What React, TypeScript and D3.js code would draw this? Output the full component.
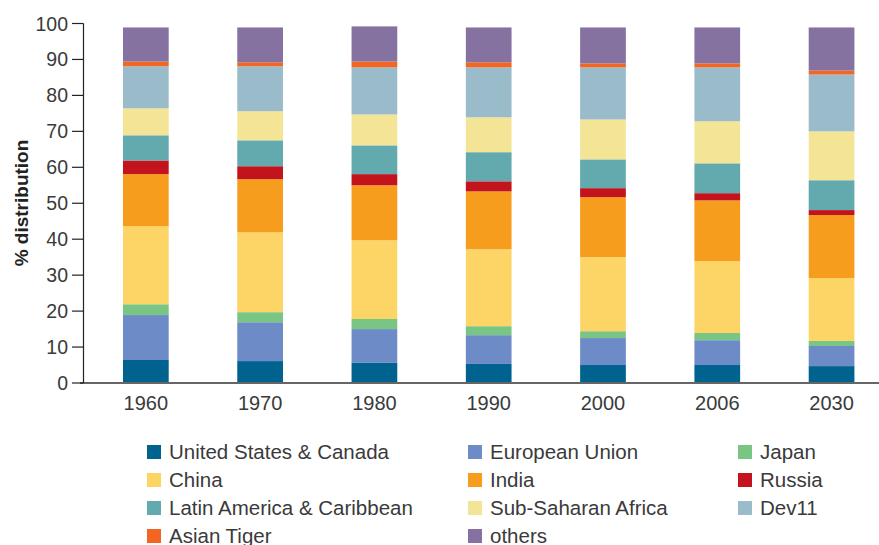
import React from "react";
import * as d3 from "d3";

const years = ["1960", "1970", "1980", "1990", "2000", "2006", "2030"];
const seriesNames = [
  "United States & Canada",
  "European Union",
  "Japan",
  "China",
  "India",
  "Russia",
  "Latin America & Caribbean",
  "Sub-Saharan Africa",
  "Dev11",
  "Asian Tiger",
  "others",
];
const seriesColors = [
  "#00628f", "#6d8bc6", "#78c584", "#fdd567", "#f79d1e", "#c3131d",
  "#63aaae", "#f4e596", "#9abcca", "#f26522", "#8572a0",
];
const usCanada = [6.4, 6.1, 5.6, 5.3, 5.0, 5.0, 4.7];
const europeanUnion = [12.5, 10.8, 9.4, 8.0, 7.5, 6.9, 5.6];
const japan = [3.0, 2.8, 2.8, 2.5, 1.9, 2.0, 1.4];
const china = [21.7, 22.2, 21.9, 21.4, 20.6, 20.0, 17.5];
const india = [14.5, 14.8, 15.3, 16.1, 16.7, 16.9, 17.5];
const russia = [3.8, 3.6, 3.1, 2.8, 2.5, 2.0, 1.4];
const latinAmerica = [7.0, 7.2, 8.0, 8.1, 8.0, 8.3, 8.3];
const subSaharan = [7.5, 8.1, 8.6, 9.7, 11.1, 11.7, 13.6];
const dev11 = [11.7, 12.5, 13.1, 13.9, 14.5, 15.0, 15.8];
const asianTiger = [1.3, 1.1, 1.6, 1.4, 1.1, 1.1, 1.1];
const others = [9.5, 9.7, 9.8, 9.7, 10.0, 10.0, 12.0];
const yTicks = [0, 10, 20, 30, 40, 50, 60, 70, 80, 90, 100];

const seriesValues = [
  usCanada, europeanUnion, japan, china, india, russia,
  latinAmerica, subSaharan, dev11, asianTiger, others,
];

export default function App() {
  const W = 879, H = 545;
  const font = "'Liberation Sans', Arial, sans-serif";
  const x = d3.scaleBand<string>().domain(years).range([88.7, 888.7]).paddingInner(0.6).paddingOuter(0.3);
  const y = d3.scaleLinear().domain([0, 100]).range([383, 23.5]);

  const rows = years.map((yr, i) => {
    const r: any = { year: yr };
    seriesNames.forEach((s, k) => (r[s] = seriesValues[k][i]));
    return r;
  });
  const stacked = d3.stack<any>().keys(seriesNames)(rows);

  const legendCols = [147, 468, 738];
  const legendRows = [452, 480, 508, 536];

  return (
    <svg width={W} height={H} style={{ position: "absolute", left: 0, top: 0 }}>
      <rect width={W} height={H} fill="#fff" />
      {stacked.map((layer, k) => (
        <g key={layer.key} fill={seriesColors[k]}>
          {layer.map((d, i) => (
            <rect
              key={i}
              x={x(years[i])}
              width={x.bandwidth()}
              y={y(d[1])}
              height={y(d[0]) - y(d[1])}
            />
          ))}
        </g>
      ))}
      {/* x baseline */}
      <line x1={80} x2={879} y1={y(0)} y2={y(0)} stroke="#666" strokeWidth={2} />
      {/* y axis */}
      <line x1={83.5} x2={83.5} y1={y(100)} y2={y(0)} stroke="#222" strokeWidth={1.2} />
      {yTicks.map((t) => (
        <g key={t}>
          <line x1={72} x2={83.5} y1={y(t)} y2={y(t)} stroke="#222" strokeWidth={1.2} />
          <text x={68} y={y(t)} dy="0.36em" textAnchor="end" fontFamily={font} fontSize={19.5} fill="#3a3a3a">
            {t}
          </text>
        </g>
      ))}
      {years.map((yr) => (
        <text
          key={yr}
          x={(x(yr) as number) + x.bandwidth() / 2}
          y={403}
          dy="0.36em"
          textAnchor="middle"
          fontFamily={font}
          fontSize={20}
          fill="#3a3a3a"
        >
          {yr}
        </text>
      ))}
      <text
        transform={`translate(21, 203) rotate(-90)`}
        textAnchor="middle"
        dy="0.35em"
        fontFamily={font}
        fontSize={19}
        fontWeight="bold"
        fill="#222"
      >
        % distribution
      </text>
      {seriesNames.map((s, k) => {
        const col = k % 3;
        const row = Math.floor(k / 3);
        const lx = legendCols[col];
        const ly = legendRows[row];
        return (
          <g key={s}>
            <rect x={lx} y={ly - 7} width={14} height={14} fill={seriesColors[k]} />
            <text x={lx + 22} y={ly} dy="0.36em" fontFamily={font} fontSize={20.5} fill="#3a3a3a">
              {s}
            </text>
          </g>
        );
      })}
    </svg>
  );
}
